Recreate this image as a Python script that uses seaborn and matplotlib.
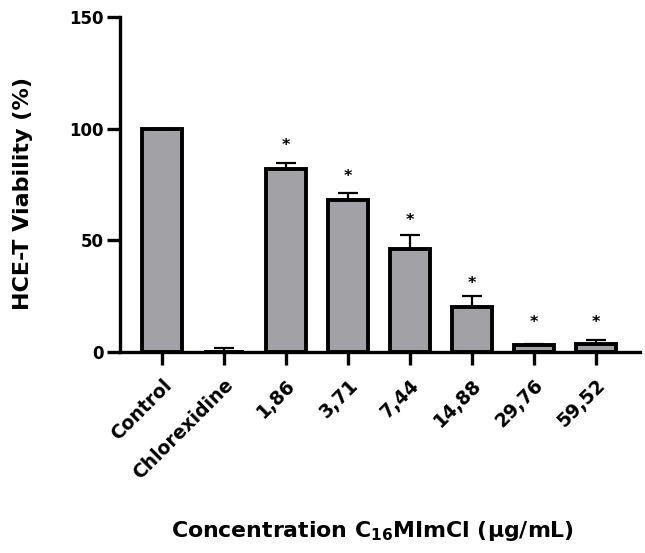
import matplotlib
matplotlib.use("Agg")
import matplotlib.pyplot as plt
import seaborn as sns
import numpy as np
import pandas as pd

categories = ["Control", "Chlorexidine", "1,86", "3,71", "7,44", "14,88", "29,76", "59,52"]
viability = [100, 0, 82, 68, 46, 20, 3, 3.5]
err_upper = [0, 2, 2.5, 3, 6.5, 5, 0.5, 2]
significant = [False, False, True, True, True, True, True, True]
star_y = [None, None, 92.7, 78.4, 59.1, 30.5, 13.0, 13.0]
yticks = [0, 50, 100, 150]

sns.set_theme(style="ticks")
plt.rcParams['font.family'] = ['DejaVu Sans']
plt.rcParams['mathtext.fontset'] = 'dejavusans'
plt.rcParams['text.color'] = 'black'
plt.rcParams['axes.labelcolor'] = 'black'
plt.rcParams['xtick.color'] = 'black'
plt.rcParams['ytick.color'] = 'black'

df = pd.DataFrame({"cat": categories, "val": viability})

fig = plt.figure(figsize=(6.45, 5.53), dpi=100)
ax = fig.add_axes([0.186, 0.3635, 0.806, 0.6055])

sns.barplot(data=df, x="cat", y="val", color="#a2a2a6", saturation=1,
            edgecolor="black", linewidth=2.8, width=0.65, ax=ax, errorbar=None)

xs = np.arange(len(categories))
ax.errorbar(xs, viability, yerr=[np.zeros(len(xs)), err_upper], fmt="none",
            ecolor="black", elinewidth=1.6, capsize=7.5, capthick=1.6, zorder=1)

for x, s, y in zip(xs, significant, star_y):
    if s:
        ax.text(x, y, "*", ha="center", va="center", fontsize=11.5,
                fontweight="bold", color="black")

ax.set_ylim(0, 150)
ax.set_xlim(-0.68, 7.71)
ax.set_yticks(yticks)
ax.set_yticklabels([str(t) for t in yticks], fontsize=12, fontweight="bold")
ax.set_xticks(xs)
ax.set_xticklabels(categories, rotation=45, ha="right", rotation_mode="anchor",
                   fontsize=13.5, fontweight="bold")

for side in ["top", "right"]:
    ax.spines[side].set_visible(False)
for side in ["left", "bottom"]:
    ax.spines[side].set_linewidth(2.4)
    ax.spines[side].set_color("black")
ax.tick_params(axis="both", direction="out", length=9.5, width=2.4, color="black")
ax.tick_params(axis="y", pad=2)
ax.tick_params(axis="x", pad=7.5)

ax.set_ylabel("HCE-T Viability (%)", fontsize=16, fontweight="bold")
ax.yaxis.set_label_coords(-0.167, 0.4746)
ax.set_xlabel(r"Concentration C$_{\mathbf{16}}$MImCl (µg/mL)", fontsize=15.8, fontweight="bold")
ax.xaxis.set_label_coords(0.486, -0.50)

fig.savefig("out.png", dpi=100)
